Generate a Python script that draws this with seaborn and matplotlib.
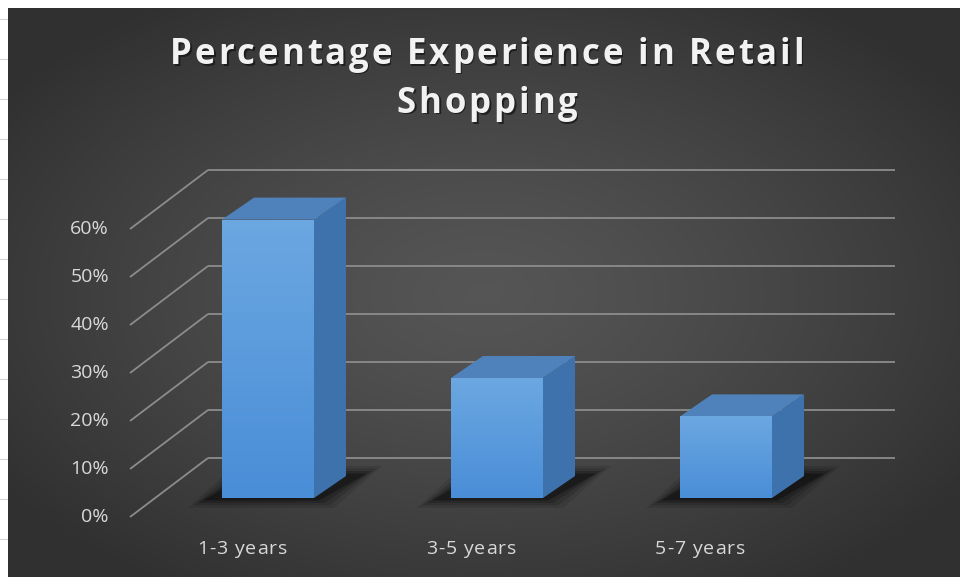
import numpy as np
import matplotlib
matplotlib.use("Agg")
import matplotlib.pyplot as plt
from matplotlib.patches import Polygon, Rectangle
import seaborn as sns
import pandas as pd

# ---- data ----
categories = ["1-3 years", "3-5 years", "5-7 years"]
shares = [58, 25, 17]                      # percent
tick_values = [0, 10, 20, 30, 40, 50, 60]
tick_labels = [f"{v}%" for v in tick_values]
title_lines = ["Percentage Experience in Retail", "Shopping"]

df = pd.DataFrame({"experience": categories, "share": shares})

sns.set_theme(style="white")
plt.rcParams["font.family"] = ["Open Sans", "DejaVu Sans"]

W, H = 960, 577
fig = plt.figure(figsize=(W / 100, H / 100), dpi=100)
ax = fig.add_axes([0, 0, 1, 1])
renderer = fig.canvas.get_renderer()

# pixel -> data mapping (x in category units, y in percent)
PX0, PXS = 268.0, 229.0
PY0, PYS = 498.0, 4.8
def dx(px): return (px - PX0) / PXS
def dy(py): return (PY0 - py) / PYS


def tracked_text(cx_px, base_px, s, size, color, track_px, weight="normal",
                 alpha=1.0, zorder=10):
    """Centered text with extra letter spacing, placed in figure pixels."""
    widths = []
    for ch in s:
        t = fig.text(0, 0, ch, fontsize=size, fontweight=weight)
        if ch == " ":
            t.set_text("a a")
            w3 = t.get_window_extent(renderer).width
            t.set_text("aa")
            w2 = t.get_window_extent(renderer).width
            widths.append(w3 - w2)
        else:
            widths.append(t.get_window_extent(renderer).width)
        t.remove()
    total = sum(widths) + track_px * (len(s) - 1)
    x = cx_px - total / 2
    for ch, w in zip(s, widths):
        if ch != " ":
            fig.text(x / W, 1 - base_px / H, ch, fontsize=size,
                     fontweight=weight, color=color, alpha=alpha,
                     ha="left", va="baseline", zorder=zorder)
        x += w + track_px


ax.set_xlim(dx(0), dx(W))
ax.set_ylim(dy(H), dy(0))
ax.axis("off")

# ---- background: sheet margin + dark radial panel ----
ax.add_patch(Rectangle((dx(0), dy(H)), dx(W) - dx(0), dy(0) - dy(H),
                       facecolor="white", edgecolor="none", zorder=-20))
for gy in range(19, H, 40):
    ax.plot([dx(0), dx(8)], [dy(gy), dy(gy)], color="#d4d4d4", lw=0.8, zorder=-19)

yy, xx = np.mgrid[0:H - 8, 0:W - 8]
cx, cy = (W - 8) * 0.5, (H - 8) * 0.5
r = np.sqrt(((xx - cx) / (W * 0.62)) ** 2 + ((yy - cy) / (H * 0.62)) ** 2)
shade = np.clip(0.335 - 0.15 * r ** 1.3, 0.19, 0.34)
bg = np.dstack([shade, shade, shade])
ax.imshow(bg, extent=(dx(8), dx(W), dy(H), dy(8)), aspect="auto",
          origin="upper", zorder=-18, interpolation="bilinear")

# ---- 3D frame geometry ----
front_zero = dy(517)        # label plane
back_zero = dy(458)         # back wall
x_front = dx(130)
x_back = dx(208)
x_right = dx(895)
grid_col = "#8c8c8c"
for v, lab in zip(tick_values, tick_labels):
    ax.plot([x_front, x_back], [front_zero + v, back_zero + v],
            color=grid_col, lw=1.3, zorder=1, solid_capstyle="butt")
    ax.plot([x_back, x_right], [back_zero + v, back_zero + v],
            color=grid_col, lw=1.3, zorder=1, solid_capstyle="butt")
    ax.text(dx(109), front_zero + v, lab, ha="right", va="center",
            color="#d9d9d9", fontsize=14, zorder=5)

# ---- bars (front faces via seaborn) ----
bar_w = 92 / PXS
sns.barplot(data=df, x="experience", y="share", width=bar_w,
            color="#5b9bd5", saturation=1, ax=ax, zorder=4,
            edgecolor="none", linewidth=0)
ax.set_xlim(dx(0), dx(W))
ax.set_ylim(dy(H), dy(0))
ax.axis("off")

ddx, ddy = 32 / PXS, 22 / PYS     # bar depth offset
grad = np.linspace(0, 1, 64).reshape(-1, 1)
front_cmap = matplotlib.colors.LinearSegmentedColormap.from_list(
    "front", ["#4a8ed8", "#6ba7e1"])
for patch, val in zip(ax.patches[-len(shares):], shares):
    x0 = patch.get_x()
    x1 = x0 + patch.get_width()
    h = patch.get_height()
    # soft floor shadow
    for k, a in enumerate([0.10, 0.14, 0.20, 0.32]):
        g = (4 - k) * 5 / PXS
        gy = (4 - k) * 2.5 / PYS
        ax.add_patch(Polygon([(x0 - g - 14 / PXS, -gy), (x1 + g, -gy),
                              (x1 + ddx + g + 16 / PXS, ddy + gy),
                              (x0 + ddx - g, ddy + gy)],
                             closed=True, facecolor="black", edgecolor="none",
                             alpha=a, zorder=2))
    # gradient on the front face
    im = ax.imshow(grad, extent=(x0, x1, 0, h), origin="lower", cmap=front_cmap,
                   aspect="auto", zorder=4.1, interpolation="bilinear")
    im.set_clip_path(patch)
    # side face
    ax.add_patch(Polygon([(x1, 0), (x1 + ddx, ddy), (x1 + ddx, h + ddy), (x1, h)],
                         closed=True, facecolor="#3e72ac", edgecolor="none", zorder=4))
    # top face
    ax.add_patch(Polygon([(x0, h), (x1, h), (x1 + ddx, h + ddy), (x0 + ddx, h + ddy)],
                         closed=True, facecolor="#4f82bb", edgecolor="none", zorder=4))

# ---- category labels on the front plane ----
for i, c in enumerate(categories):
    px = PX0 + (i - 26 / PXS) * PXS
    tracked_text(px, 554, c, 14, "#d9d9d9", 0.9, zorder=5)

# ---- title with drop shadow ----
for line, base in zip(title_lines, [64, 113]):
    tracked_text(487 + 1.5, base + 1.5, line, 25, "#151515", 2.9,
                 weight="bold", alpha=0.75, zorder=9)
    tracked_text(487, base, line, 25, "#f2f2f2", 2.9, weight="bold", zorder=10)

fig.savefig("out.png", dpi=100)
